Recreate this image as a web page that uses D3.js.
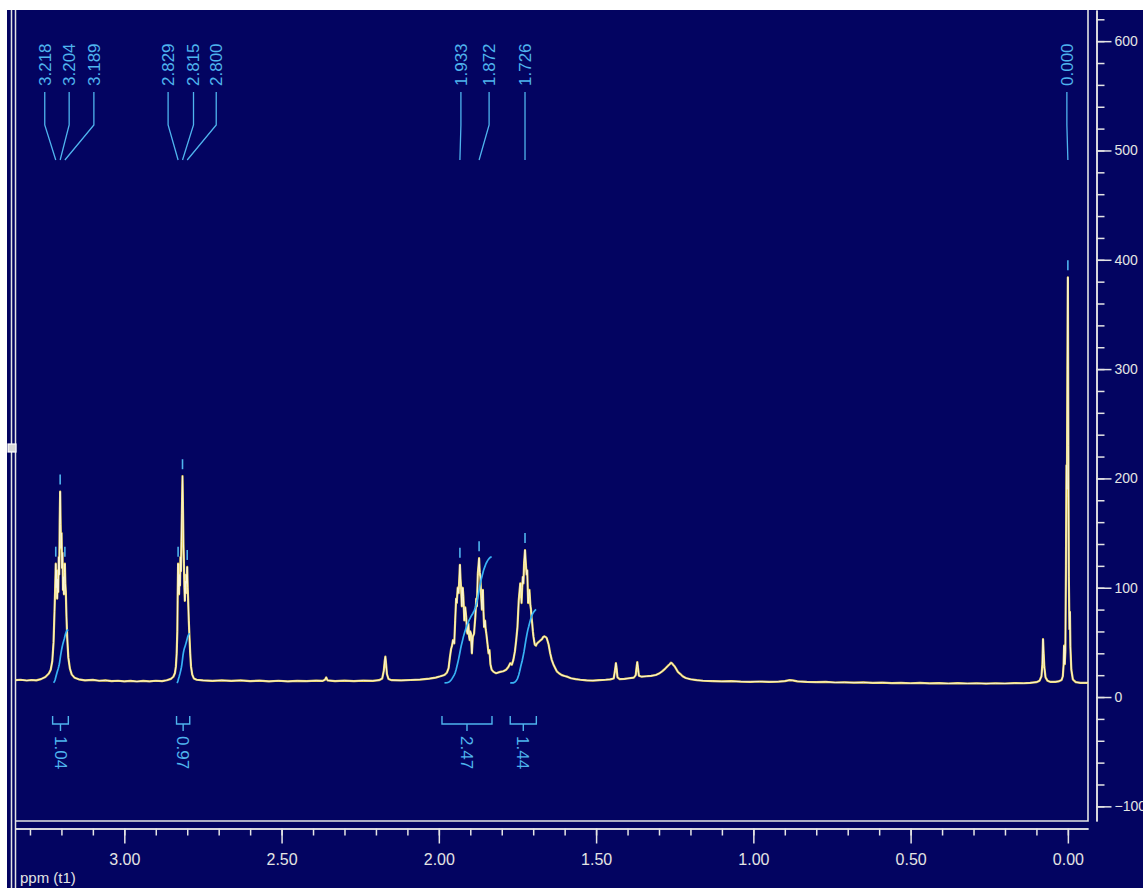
<!DOCTYPE html>
<html>
<head>
<meta charset="utf-8">
<script src="https://cdn.jsdelivr.net/npm/d3@7"></script>
<style>
  body { margin: 0; background: #fff; }
  svg { display: block; }
  text { font-family: "Liberation Sans", Arial, sans-serif; }
</style>
</head>
<body>
<script>
// 1H spectrum: [ppm, intensity]
const spectrum = [
  [3.346,15.4],[3.33,15.8],[3.31,15.1],[3.295,15.6],[3.28,15.3],[3.265,16.4],[3.251,18.4],[3.240,21.5],
  [3.234,25],[3.229,33],[3.225,50],[3.222,78],[3.220,98],[3.218,122],[3.2165,100],[3.215,116],[3.2135,90],
  [3.212,108],[3.210,96],[3.2085,128],[3.207,112],[3.2055,160],[3.204,188],[3.2025,158],[3.201,136],
  [3.1995,150],[3.198,118],[3.1965,132],[3.195,98],[3.1935,110],[3.192,94],[3.1905,114],[3.189,122],
  [3.1875,104],[3.186,96],[3.184,74],[3.1815,54],[3.178,36],[3.173,26],[3.167,20.5],[3.158,17.6],
  [3.145,16.2],[3.125,15.3],[3.10,15.7],[3.08,14.9],[3.06,15.3],[3.04,14.6],[3.02,14.9],[3.00,14.3],
  [2.98,14.8],[2.96,14.2],[2.94,14.7],[2.92,14.3],[2.90,14.9],[2.88,14.5],[2.865,15.4],[2.852,16.6],
  [2.844,18.6],[2.839,22],[2.836,28],[2.8335,40],[2.8315,60],[2.8305,88],[2.829,122],[2.8275,100],
  [2.826,94],[2.8245,112],[2.823,102],[2.8215,128],[2.820,115],[2.8185,142],[2.817,168],[2.815,202],
  [2.8135,172],[2.812,140],[2.8105,122],[2.809,100],[2.8075,88],[2.806,106],[2.8045,95],[2.803,112],
  [2.8015,104],[2.800,119],[2.7985,100],[2.797,88],[2.795,70],[2.793,56],[2.7905,40],[2.788,28],
  [2.784,20.5],[2.779,17],[2.77,15.8],[2.75,15.2],[2.72,14.8],[2.69,15.3],[2.66,14.7],[2.63,15.2],
  [2.60,14.5],[2.57,15.0],[2.54,14.4],[2.51,14.9],[2.48,14.3],[2.45,14.8],[2.42,14.5],[2.39,15.0],
  [2.37,14.7],[2.362,15.8],[2.358,18],[2.354,15.2],[2.33,14.6],[2.30,15.0],[2.27,14.6],[2.24,15.1],
  [2.21,14.8],[2.19,15.4],[2.18,17],[2.175,24],[2.172,33],[2.170,37],[2.168,31],[2.165,21],[2.16,16.5],
  [2.15,15.4],[2.12,15.2],[2.09,15.6],[2.06,16],[2.03,16.8],[2.01,17.8],[1.995,19],[1.982,20.2],
  [1.974,22.5],[1.969,26.5],[1.965,36],[1.961,44],[1.958,47],[1.955,52],[1.951,49],[1.948,70],
  [1.945,90],[1.943,86],[1.940,100],[1.937,95],[1.933,121],[1.931,108],[1.929,98],[1.927,83],
  [1.924,100],[1.922,92],[1.919,70],[1.916,82],[1.913,73],[1.911,62],[1.909,58],[1.906,67],[1.904,56],
  [1.902,52],[1.900,60],[1.898,58],[1.895,40],[1.892,55],[1.888,58],[1.886,66],[1.884,73],[1.881,90],
  [1.879,83],[1.876,113],[1.872,127],[1.870,114],[1.868,110],[1.865,90],[1.863,80],[1.860,98],
  [1.858,78],[1.856,64],[1.853,70],[1.851,62],[1.849,58],[1.845,48],[1.842,40],[1.839,43],[1.836,30],
  [1.832,25],[1.826,23],[1.818,21.8],[1.805,23],[1.795,23.6],[1.786,25],[1.779,27.5],[1.773,31],
  [1.768,29.5],[1.763,34],[1.758,42],[1.754,52],[1.750,64],[1.746,88],[1.743,98],[1.741,104],
  [1.739,96],[1.737,86],[1.735,100],[1.733,110],[1.731,104],[1.729,122],[1.726,134.5],[1.723,120],
  [1.721,112],[1.719,116],[1.717,96],[1.716,86],[1.714,92],[1.712,98],[1.709,84],[1.707,80],[1.705,72],
  [1.703,67],[1.701,60],[1.699,55],[1.695,48],[1.691,47],[1.688,49],[1.684,50],[1.680,51],[1.676,52],
  [1.672,53],[1.668,55],[1.665,55.5],[1.661,55],[1.657,54],[1.654,51],[1.651,48],[1.646,40],[1.641,34],
  [1.636,30],[1.631,27],[1.625,23.5],[1.617,21.5],[1.609,20],[1.60,19.2],[1.59,18.4],[1.58,17.2],
  [1.565,16.4],[1.55,15.8],[1.53,15.3],[1.51,15.1],[1.49,15.4],[1.47,15.8],[1.455,16.2],[1.444,17],
  [1.440,24],[1.437,31],[1.435,27],[1.432,18],[1.425,16.4],[1.41,16.6],[1.395,17.2],[1.38,17.8],
  [1.374,20],[1.371,28],[1.369,32],[1.367,27],[1.364,19.5],[1.355,18.6],[1.34,19],[1.325,19.4],
  [1.31,20.2],[1.30,21.5],[1.29,23.5],[1.28,26],[1.272,28.5],[1.266,30],[1.262,31.5],[1.259,31],
  [1.255,29.5],[1.250,28],[1.245,25.5],[1.24,23],[1.232,21],[1.225,19],[1.215,17.4],[1.20,16.3],
  [1.18,15.4],[1.16,14.9],[1.13,14.6],[1.10,14.3],[1.07,14.5],[1.04,14.1],[1.01,13.9],[0.98,14.2],
  [0.95,13.8],[0.92,14.1],[0.90,14.6],[0.885,15.5],[0.875,15.2],[0.86,14.4],[0.83,13.8],[0.80,13.6],
  [0.77,13.9],[0.74,13.3],[0.71,13.5],[0.68,13.1],[0.65,13.4],[0.62,12.9],[0.59,13.2],[0.56,12.7],
  [0.53,13.0],[0.50,12.6],[0.47,12.9],[0.44,12.5],[0.41,12.8],[0.38,12.4],[0.35,12.7],[0.32,12.4],
  [0.29,12.6],[0.26,12.3],[0.23,12.6],[0.20,12.4],[0.17,12.7],[0.14,12.6],[0.12,13],[0.10,13.6],
  [0.09,15],[0.084,19],[0.081,30],[0.079,53],[0.077,40],[0.075,28],[0.071,18],[0.065,15],[0.055,13.8],
  [0.04,13.9],[0.03,14.3],[0.02,15.6],[0.016,19],[0.0135,30],[0.012,47],[0.010,30],[0.008,42],
  [0.006,120],[0.0045,212],[0.003,190],[0.0015,300],[0.000,384],[-0.0015,230],[-0.003,110],
  [-0.005,62],[-0.0065,78],[-0.008,46],[-0.011,25],[-0.016,16],[-0.025,13.6],[-0.04,12.9],[-0.064,13]
];

// peak picking
const peakPpm = [3.218, 3.204, 3.189, 2.829, 2.815, 2.800, 1.933, 1.872, 1.726, 0.000];
const peakText = ["3.218", "3.204", "3.189", "2.829", "2.815", "2.800", "1.933", "1.872", "1.726", "0.000"];

// integrals
const integralFrom = [3.228, 2.834, 1.990, 1.773];
const integralTo = [3.178, 2.792, 1.831, 1.690];
const integralValues = [1.04, 0.97, 2.47, 1.44];

// axes
const xMajorTicks = [3.00, 2.50, 2.00, 1.50, 1.00, 0.50, 0.00];
const xMinorTicks = d3.range(0, 34).map(i => i / 10);
const yMajorTicks = [-100, 0, 100, 200, 300, 400, 500, 600];
const yMinorTicks = d3.range(-100, 621, 20);

const W = 1143, H = 888;
const plot = {left: 15.5, right: 1088, top: 10, bottom: 821};
const bg = "#030461", fg = "#e4e4e4", blue = "#4fb4ee", intBlue = "#38b2f4";
// label nudges (px) so the peak labels don't collide
const labelShift = [-11, 9, 29, -10, 11, 29, 1, 10, 0, -1];

const x = d3.scaleLinear().domain([3.346, -0.064]).range([plot.left, plot.right]);
const y = d3.scaleLinear().domain([-113.4, 628.5]).range([plot.bottom, plot.top]);

const svg = d3.select("body").append("svg")
    .attr("width", W)
    .attr("height", H);

svg.append("rect").attr("width", W).attr("height", H).attr("fill", "#fff");
svg.append("rect").attr("x", 7).attr("y", 10).attr("width", W - 7).attr("height", H - 10).attr("fill", bg);

svg.append("clipPath").attr("id", "clip")
  .append("rect")
    .attr("x", plot.left).attr("y", plot.top)
    .attr("width", plot.right - plot.left).attr("height", plot.bottom - plot.top);

// left double line + little handle
[11.5, 15.5].forEach(lx => {
    svg.append("line").attr("x1", lx).attr("x2", lx).attr("y1", 10).attr("y2", H)
        .attr("stroke", fg).attr("stroke-width", 1.5);
});
svg.append("rect").attr("x", 8).attr("y", 444).attr("width", 8).attr("height", 8)
    .attr("fill", "#d8d8d8").attr("stroke", "#fff").attr("stroke-width", 1.2);

// frame
svg.append("path")
    .attr("d", `M${plot.left},${plot.bottom}H${plot.right}V${plot.top}`)
    .attr("fill", "none").attr("stroke", fg).attr("stroke-width", 1.6);

// spectrum
const line = d3.line().x(d => x(d[0])).y(d => y(d[1]));
const specG = svg.append("g").attr("clip-path", "url(#clip)");
specG.append("path").datum(spectrum)
    .attr("d", line).attr("fill", "none")
    .attr("stroke", "#ecd35e").attr("stroke-width", 2.2).attr("stroke-linejoin", "round");
specG.append("path").datum(spectrum)
    .attr("d", line).attr("fill", "none")
    .attr("stroke", "#fbf7dc").attr("stroke-width", 1).attr("stroke-linejoin", "round");

// integrals: cumulative area of the spectrum over each range
const intBase = 13, unitsPerIntegral = 46.7;
integralValues.forEach((val, k) => {
    const a = integralFrom[k], b = integralTo[k];
    const pts = spectrum.filter(d => d[0] <= a && d[0] >= b);
    const base = Math.min(pts[0][1], pts[pts.length - 1][1]);
    let acc = 0;
    const cum = pts.map((d, i) => {
        if (i > 0) {
            const p = pts[i - 1];
            acc += ((d[1] + p[1]) / 2 - base) * (p[0] - d[0]);
        }
        return [d[0], acc];
    });
    const total = acc;
    const curve = cum.map(d => [d[0], intBase + d[1] / total * val * unitsPerIntegral]);
    svg.append("path").datum(curve)
        .attr("d", line).attr("fill", "none")
        .attr("stroke", intBlue).attr("stroke-width", 1.7);

    // bracket + value
    const x1 = x(a), x2 = x(b), xc = (x1 + x2) / 2, yb = 724;
    svg.append("path")
        .attr("d", `M${x1},${yb - 8}V${yb}H${x2}V${yb - 8}M${xc},${yb}V${yb + 7}`)
        .attr("fill", "none").attr("stroke", blue).attr("stroke-width", 1.4);
    svg.append("text")
        .attr("transform", `translate(${xc},736) rotate(90)`)
        .attr("dy", "0.35em")
        .attr("fill", blue).attr("font-size", 17)
        .text(d3.format(".2f")(val));
});

// peak labels
peakPpm.forEach((p, i) => {
    const top = spectrum.reduce((m, d) => Math.abs(d[0] - p) < Math.abs(m[0] - p) ? d : m);
    const px = x(p), lx = px + labelShift[i];
    svg.append("text")
        .attr("transform", `translate(${lx},86) rotate(-90)`)
        .attr("dy", "0.35em")
        .attr("fill", blue).attr("font-size", 17)
        .text(peakText[i]);
    svg.append("path")
        .attr("d", `M${lx},92V125L${px},160`)
        .attr("fill", "none").attr("stroke", blue).attr("stroke-width", 1.3);
    const ty = y(top[1]);
    svg.append("line")
        .attr("x1", px).attr("x2", px).attr("y1", ty - 17).attr("y2", ty - 7)
        .attr("stroke", blue).attr("stroke-width", 1.6);
});

// bottom ppm axis
const xMinor = svg.append("g").attr("transform", "translate(0,828.5)")
    .call(d3.axisBottom(x).tickValues(xMinorTicks).tickSize(7).tickSizeOuter(0).tickFormat(""));
const xMajor = svg.append("g").attr("transform", "translate(0,828.5)")
    .call(d3.axisBottom(x).tickValues(xMajorTicks).tickSize(15).tickSizeOuter(0)
        .tickPadding(10).tickFormat(d3.format(".2f")));

// right intensity axis
const yMinor = svg.append("g").attr("transform", "translate(1096.5,0)")
    .call(d3.axisRight(y).tickValues(yMinorTicks).tickSize(8).tickSizeOuter(0).tickFormat(""));
const yMajor = svg.append("g").attr("transform", "translate(1096.5,0)")
    .call(d3.axisRight(y).tickValues(yMajorTicks).tickSize(15).tickSizeOuter(0).tickPadding(3));

[xMinor, xMajor, yMinor, yMajor].forEach(g => {
    g.selectAll("path, line").attr("stroke", fg).attr("stroke-width", 1.5);
    g.selectAll("text").attr("fill", fg).attr("font-family", '"Liberation Sans", Arial, sans-serif');
});
xMajor.selectAll("text").attr("font-size", 16);
yMajor.selectAll("text").attr("font-size", 14);

svg.append("text")
    .attr("x", 20).attr("y", 883)
    .attr("fill", fg).attr("font-size", 15)
    .text("ppm (t1)");
</script>
</body>
</html>
